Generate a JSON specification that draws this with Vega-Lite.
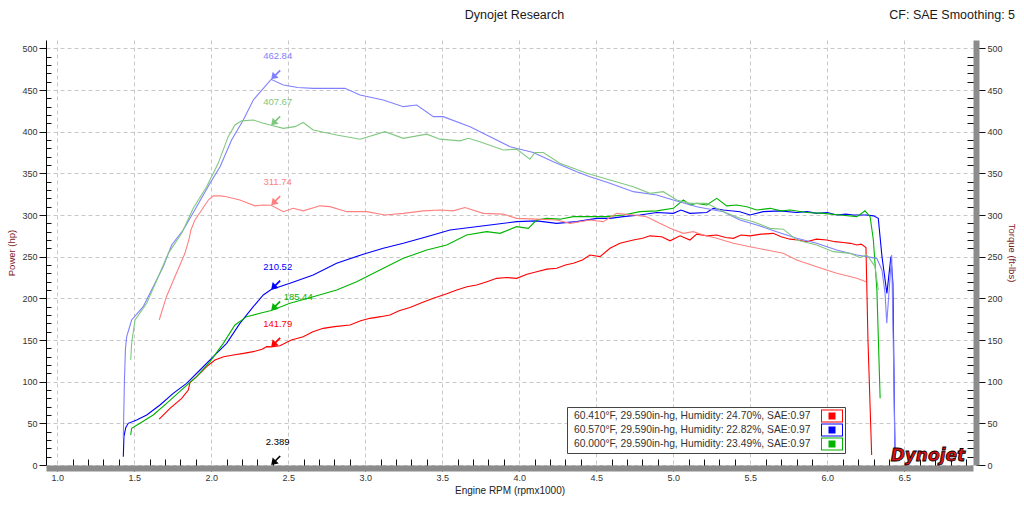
{
  "$schema": "https://vega.github.io/schema/vega-lite/v6.json",
  "width": 927,
  "height": 425,
  "autosize": {"type": "none"},
  "padding": {"left": 46, "top": 40, "right": 51, "bottom": 47},
  "background": "white",
  "config": {
    "view": {"stroke": null},
    "font": "Liberation Sans",
    "axis": {"labelFont": "Liberation Sans", "titleFont": "Liberation Sans"},
    "text": {"font": "Liberation Sans"}
  },
  "title": {"text": "Dynojet Research", "frame": "group", "anchor": "middle", "baseline": "top", "offset": -12, "dx": 5, "font": "Liberation Sans", "fontSize": 12.5, "fontWeight": "normal", "color": "#1a1a1a"},
  "datasets": {
    "curves": [
      {"s":"P1","r":1.662,"v":55},{"s":"P1","r":1.732,"v":68},{"s":"P1","r":1.808,"v":80},{"s":"P1","r":1.851,"v":90},{"s":"P1","r":1.862,"v":99},{"s":"P1","r":1.905,"v":106},{"s":"P1","r":1.97,"v":118},{"s":"P1","r":2.024,"v":126},{"s":"P1","r":2.08,"v":130},{"s":"P1","r":2.143,"v":132},{"s":"P1","r":2.21,"v":134},{"s":"P1","r":2.273,"v":136},{"s":"P1","r":2.33,"v":139},{"s":"P1","r":2.36,"v":142},{"s":"P1","r":2.389,"v":141.79},{"s":"P1","r":2.446,"v":143},{"s":"P1","r":2.52,"v":150},{"s":"P1","r":2.597,"v":154},{"s":"P1","r":2.66,"v":160},{"s":"P1","r":2.727,"v":164},{"s":"P1","r":2.8,"v":166},{"s":"P1","r":2.901,"v":168},{"s":"P1","r":2.97,"v":173},{"s":"P1","r":3.031,"v":176},{"s":"P1","r":3.1,"v":178},{"s":"P1","r":3.16,"v":180},{"s":"P1","r":3.22,"v":185},{"s":"P1","r":3.29,"v":189},{"s":"P1","r":3.37,"v":195},{"s":"P1","r":3.442,"v":200},{"s":"P1","r":3.52,"v":205},{"s":"P1","r":3.594,"v":210},{"s":"P1","r":3.66,"v":214},{"s":"P1","r":3.723,"v":216},{"s":"P1","r":3.79,"v":220},{"s":"P1","r":3.853,"v":224},{"s":"P1","r":3.92,"v":225},{"s":"P1","r":3.983,"v":224},{"s":"P1","r":4.05,"v":229},{"s":"P1","r":4.113,"v":232},{"s":"P1","r":4.18,"v":235},{"s":"P1","r":4.243,"v":236},{"s":"P1","r":4.3,"v":240},{"s":"P1","r":4.351,"v":242},{"s":"P1","r":4.41,"v":246},{"s":"P1","r":4.459,"v":252},{"s":"P1","r":4.524,"v":250},{"s":"P1","r":4.589,"v":260},{"s":"P1","r":4.654,"v":266},{"s":"P1","r":4.74,"v":270},{"s":"P1","r":4.8,"v":272},{"s":"P1","r":4.849,"v":275},{"s":"P1","r":4.925,"v":274},{"s":"P1","r":4.979,"v":269},{"s":"P1","r":5.044,"v":275},{"s":"P1","r":5.108,"v":270},{"s":"P1","r":5.152,"v":277},{"s":"P1","r":5.22,"v":275},{"s":"P1","r":5.282,"v":276},{"s":"P1","r":5.34,"v":273},{"s":"P1","r":5.39,"v":272},{"s":"P1","r":5.44,"v":276},{"s":"P1","r":5.498,"v":275},{"s":"P1","r":5.57,"v":277},{"s":"P1","r":5.649,"v":278},{"s":"P1","r":5.7,"v":274},{"s":"P1","r":5.758,"v":271},{"s":"P1","r":5.81,"v":270},{"s":"P1","r":5.866,"v":268},{"s":"P1","r":5.93,"v":271},{"s":"P1","r":5.996,"v":270},{"s":"P1","r":6.05,"v":268},{"s":"P1","r":6.104,"v":267},{"s":"P1","r":6.15,"v":266},{"s":"P1","r":6.192,"v":264},{"s":"P1","r":6.22,"v":265},{"s":"P1","r":6.251,"v":261},{"s":"P1","r":6.264,"v":150},{"s":"P1","r":6.288,"v":12},
      {"s":"P2","r":1.429,"v":10},{"s":"P2","r":1.433,"v":34},{"s":"P2","r":1.445,"v":45},{"s":"P2","r":1.461,"v":50},{"s":"P2","r":1.516,"v":54},{"s":"P2","r":1.581,"v":60},{"s":"P2","r":1.667,"v":72},{"s":"P2","r":1.753,"v":86},{"s":"P2","r":1.84,"v":98},{"s":"P2","r":1.927,"v":114},{"s":"P2","r":2.013,"v":130},{"s":"P2","r":2.1,"v":146},{"s":"P2","r":2.186,"v":170},{"s":"P2","r":2.273,"v":190},{"s":"P2","r":2.338,"v":204},{"s":"P2","r":2.389,"v":210.52},{"s":"P2","r":2.511,"v":218},{"s":"P2","r":2.662,"v":228},{"s":"P2","r":2.814,"v":242},{"s":"P2","r":2.987,"v":253},{"s":"P2","r":3.117,"v":260},{"s":"P2","r":3.247,"v":266},{"s":"P2","r":3.399,"v":274},{"s":"P2","r":3.55,"v":282},{"s":"P2","r":3.68,"v":285},{"s":"P2","r":3.81,"v":288},{"s":"P2","r":3.983,"v":292},{"s":"P2","r":4.113,"v":293},{"s":"P2","r":4.243,"v":290},{"s":"P2","r":4.373,"v":292},{"s":"P2","r":4.503,"v":296},{"s":"P2","r":4.589,"v":296},{"s":"P2","r":4.675,"v":298},{"s":"P2","r":4.784,"v":300},{"s":"P2","r":4.892,"v":303},{"s":"P2","r":5.0,"v":302},{"s":"P2","r":5.05,"v":306},{"s":"P2","r":5.108,"v":302},{"s":"P2","r":5.217,"v":303},{"s":"P2","r":5.26,"v":308},{"s":"P2","r":5.325,"v":306},{"s":"P2","r":5.433,"v":304},{"s":"P2","r":5.498,"v":300},{"s":"P2","r":5.584,"v":304},{"s":"P2","r":5.693,"v":305},{"s":"P2","r":5.801,"v":303},{"s":"P2","r":5.87,"v":304},{"s":"P2","r":5.931,"v":302},{"s":"P2","r":6.0,"v":303},{"s":"P2","r":6.061,"v":300},{"s":"P2","r":6.12,"v":301},{"s":"P2","r":6.169,"v":300},{"s":"P2","r":6.256,"v":300},{"s":"P2","r":6.3,"v":299},{"s":"P2","r":6.331,"v":296},{"s":"P2","r":6.355,"v":250},{"s":"P2","r":6.387,"v":206},{"s":"P2","r":6.413,"v":250},{"s":"P2","r":6.426,"v":218},{"s":"P2","r":6.434,"v":90},{"s":"P2","r":6.44,"v":8},
      {"s":"P3","r":1.477,"v":36},{"s":"P3","r":1.483,"v":44},{"s":"P3","r":1.537,"v":50},{"s":"P3","r":1.623,"v":60},{"s":"P3","r":1.71,"v":74},{"s":"P3","r":1.818,"v":92},{"s":"P3","r":1.905,"v":106},{"s":"P3","r":1.992,"v":124},{"s":"P3","r":2.078,"v":146},{"s":"P3","r":2.154,"v":168},{"s":"P3","r":2.23,"v":178},{"s":"P3","r":2.316,"v":182},{"s":"P3","r":2.389,"v":185.44},{"s":"P3","r":2.511,"v":194},{"s":"P3","r":2.662,"v":202},{"s":"P3","r":2.814,"v":210},{"s":"P3","r":2.944,"v":220},{"s":"P3","r":3.095,"v":234},{"s":"P3","r":3.247,"v":248},{"s":"P3","r":3.399,"v":258},{"s":"P3","r":3.529,"v":264},{"s":"P3","r":3.658,"v":276},{"s":"P3","r":3.788,"v":280},{"s":"P3","r":3.875,"v":278},{"s":"P3","r":3.983,"v":286},{"s":"P3","r":4.058,"v":284},{"s":"P3","r":4.113,"v":294},{"s":"P3","r":4.178,"v":296},{"s":"P3","r":4.263,"v":295},{"s":"P3","r":4.351,"v":298},{"s":"P3","r":4.459,"v":298},{"s":"P3","r":4.567,"v":298},{"s":"P3","r":4.675,"v":300},{"s":"P3","r":4.784,"v":304},{"s":"P3","r":4.892,"v":305},{"s":"P3","r":5.0,"v":308},{"s":"P3","r":5.065,"v":318},{"s":"P3","r":5.11,"v":312},{"s":"P3","r":5.154,"v":314},{"s":"P3","r":5.217,"v":312},{"s":"P3","r":5.282,"v":320},{"s":"P3","r":5.347,"v":311},{"s":"P3","r":5.41,"v":312},{"s":"P3","r":5.477,"v":310},{"s":"P3","r":5.542,"v":306},{"s":"P3","r":5.628,"v":308},{"s":"P3","r":5.7,"v":305},{"s":"P3","r":5.758,"v":306},{"s":"P3","r":5.866,"v":303},{"s":"P3","r":5.974,"v":302},{"s":"P3","r":6.082,"v":300},{"s":"P3","r":6.192,"v":298},{"s":"P3","r":6.245,"v":305},{"s":"P3","r":6.278,"v":298},{"s":"P3","r":6.299,"v":270},{"s":"P3","r":6.322,"v":210},{"s":"P3","r":6.343,"v":80},
      {"s":"T1","r":1.662,"v":174},{"s":"T1","r":1.709,"v":202},{"s":"T1","r":1.764,"v":226},{"s":"T1","r":1.829,"v":254},{"s":"T1","r":1.857,"v":272},{"s":"T1","r":1.868,"v":282},{"s":"T1","r":1.894,"v":294},{"s":"T1","r":1.938,"v":306},{"s":"T1","r":1.981,"v":318},{"s":"T1","r":2.013,"v":323},{"s":"T1","r":2.06,"v":323},{"s":"T1","r":2.1,"v":322},{"s":"T1","r":2.186,"v":318},{"s":"T1","r":2.24,"v":314},{"s":"T1","r":2.284,"v":311},{"s":"T1","r":2.338,"v":312},{"s":"T1","r":2.389,"v":311.74},{"s":"T1","r":2.468,"v":304},{"s":"T1","r":2.532,"v":308},{"s":"T1","r":2.597,"v":305},{"s":"T1","r":2.706,"v":311},{"s":"T1","r":2.771,"v":310},{"s":"T1","r":2.879,"v":304},{"s":"T1","r":3.009,"v":304},{"s":"T1","r":3.128,"v":300},{"s":"T1","r":3.247,"v":302},{"s":"T1","r":3.377,"v":305},{"s":"T1","r":3.485,"v":306},{"s":"T1","r":3.571,"v":305},{"s":"T1","r":3.647,"v":309},{"s":"T1","r":3.766,"v":302},{"s":"T1","r":3.896,"v":301},{"s":"T1","r":3.983,"v":296},{"s":"T1","r":4.113,"v":295},{"s":"T1","r":4.243,"v":294},{"s":"T1","r":4.329,"v":290},{"s":"T1","r":4.459,"v":294},{"s":"T1","r":4.545,"v":292},{"s":"T1","r":4.632,"v":302},{"s":"T1","r":4.74,"v":300},{"s":"T1","r":4.827,"v":298},{"s":"T1","r":4.892,"v":292},{"s":"T1","r":4.979,"v":284},{"s":"T1","r":5.065,"v":278},{"s":"T1","r":5.13,"v":280},{"s":"T1","r":5.195,"v":276},{"s":"T1","r":5.282,"v":272},{"s":"T1","r":5.39,"v":266},{"s":"T1","r":5.498,"v":262},{"s":"T1","r":5.606,"v":258},{"s":"T1","r":5.714,"v":254},{"s":"T1","r":5.801,"v":246},{"s":"T1","r":5.931,"v":238},{"s":"T1","r":6.061,"v":230},{"s":"T1","r":6.192,"v":224},{"s":"T1","r":6.251,"v":220},
      {"s":"T2","r":1.429,"v":32},{"s":"T2","r":1.436,"v":100},{"s":"T2","r":1.443,"v":140},{"s":"T2","r":1.451,"v":154},{"s":"T2","r":1.483,"v":174},{"s":"T2","r":1.558,"v":190},{"s":"T2","r":1.623,"v":214},{"s":"T2","r":1.688,"v":238},{"s":"T2","r":1.743,"v":264},{"s":"T2","r":1.818,"v":282},{"s":"T2","r":1.905,"v":310},{"s":"T2","r":1.992,"v":338},{"s":"T2","r":2.057,"v":358},{"s":"T2","r":2.132,"v":390},{"s":"T2","r":2.208,"v":414},{"s":"T2","r":2.273,"v":438},{"s":"T2","r":2.389,"v":462.84},{"s":"T2","r":2.468,"v":456},{"s":"T2","r":2.562,"v":453},{"s":"T2","r":2.662,"v":452},{"s":"T2","r":2.868,"v":452},{"s":"T2","r":2.966,"v":444},{"s":"T2","r":3.117,"v":438},{"s":"T2","r":3.247,"v":430},{"s":"T2","r":3.334,"v":432},{"s":"T2","r":3.442,"v":418},{"s":"T2","r":3.506,"v":418},{"s":"T2","r":3.68,"v":406},{"s":"T2","r":3.788,"v":396},{"s":"T2","r":3.94,"v":382},{"s":"T2","r":4.091,"v":375},{"s":"T2","r":4.221,"v":364},{"s":"T2","r":4.373,"v":352},{"s":"T2","r":4.459,"v":346},{"s":"T2","r":4.589,"v":338},{"s":"T2","r":4.74,"v":328},{"s":"T2","r":4.892,"v":324},{"s":"T2","r":5.0,"v":318},{"s":"T2","r":5.152,"v":310},{"s":"T2","r":5.325,"v":304},{"s":"T2","r":5.433,"v":294},{"s":"T2","r":5.542,"v":288},{"s":"T2","r":5.671,"v":280},{"s":"T2","r":5.801,"v":272},{"s":"T2","r":5.931,"v":266},{"s":"T2","r":6.061,"v":258},{"s":"T2","r":6.192,"v":252},{"s":"T2","r":6.321,"v":248},{"s":"T2","r":6.355,"v":234},{"s":"T2","r":6.375,"v":206},{"s":"T2","r":6.386,"v":170},{"s":"T2","r":6.418,"v":252},{"s":"T2","r":6.43,"v":130},{"s":"T2","r":6.44,"v":5},
      {"s":"T3","r":1.477,"v":126},{"s":"T3","r":1.483,"v":146},{"s":"T3","r":1.505,"v":174},{"s":"T3","r":1.581,"v":194},{"s":"T3","r":1.656,"v":226},{"s":"T3","r":1.721,"v":254},{"s":"T3","r":1.808,"v":278},{"s":"T3","r":1.883,"v":308},{"s":"T3","r":1.97,"v":334},{"s":"T3","r":2.045,"v":362},{"s":"T3","r":2.11,"v":394},{"s":"T3","r":2.154,"v":408},{"s":"T3","r":2.197,"v":413},{"s":"T3","r":2.273,"v":414},{"s":"T3","r":2.338,"v":410},{"s":"T3","r":2.389,"v":407.67},{"s":"T3","r":2.468,"v":404},{"s":"T3","r":2.544,"v":406},{"s":"T3","r":2.597,"v":411},{"s":"T3","r":2.662,"v":402},{"s":"T3","r":2.814,"v":396},{"s":"T3","r":2.966,"v":391},{"s":"T3","r":3.128,"v":400},{"s":"T3","r":3.247,"v":392},{"s":"T3","r":3.399,"v":397},{"s":"T3","r":3.485,"v":391},{"s":"T3","r":3.615,"v":389},{"s":"T3","r":3.669,"v":392},{"s":"T3","r":3.744,"v":388},{"s":"T3","r":3.896,"v":378},{"s":"T3","r":3.983,"v":379},{"s":"T3","r":4.069,"v":367},{"s":"T3","r":4.102,"v":375},{"s":"T3","r":4.156,"v":375},{"s":"T3","r":4.263,"v":362},{"s":"T3","r":4.351,"v":356},{"s":"T3","r":4.438,"v":350},{"s":"T3","r":4.589,"v":342},{"s":"T3","r":4.74,"v":334},{"s":"T3","r":4.849,"v":326},{"s":"T3","r":4.935,"v":328},{"s":"T3","r":5.022,"v":318},{"s":"T3","r":5.108,"v":314},{"s":"T3","r":5.217,"v":314},{"s":"T3","r":5.325,"v":304},{"s":"T3","r":5.433,"v":296},{"s":"T3","r":5.519,"v":292},{"s":"T3","r":5.628,"v":284},{"s":"T3","r":5.714,"v":283},{"s":"T3","r":5.801,"v":270},{"s":"T3","r":5.931,"v":264},{"s":"T3","r":6.039,"v":256},{"s":"T3","r":6.147,"v":254},{"s":"T3","r":6.212,"v":249},{"s":"T3","r":6.256,"v":252},{"s":"T3","r":6.288,"v":244},{"s":"T3","r":6.31,"v":238},{"s":"T3","r":6.331,"v":210}
    ],
    "cursor": [
      {"s":"T2","r":2.389,"v":462.84,"label":"462.84"},
      {"s":"T3","r":2.389,"v":407.67,"label":"407.67"},
      {"s":"T1","r":2.389,"v":311.74,"label":"311.74"},
      {"s":"P2","r":2.389,"v":210.52,"label":"210.52"},
      {"s":"P3","r":2.389,"v":185.44,"label":"185.44"},
      {"s":"P1","r":2.389,"v":141.79,"label":"141.79"},
      {"s":"X","r":2.389,"v":0,"label":"2.389"}
    ]
  },
  "layer": [
    {
      "layer": [
        {
          "data": {"name": "curves"},
          "mark": {"type": "line", "strokeWidth": 1.1},
          "encoding": {
            "x": {
              "field": "r", "type": "quantitative",
              "scale": {"domain": [0.927, 6.946], "nice": false, "zero": false},
              "axis": {
                "values": [1,1.1,1.2,1.3,1.4,1.5,1.6,1.7,1.8,1.9,2,2.1,2.2,2.3,2.4,2.5,2.6,2.7,2.8,2.9,3,3.1,3.2,3.3,3.4,3.5,3.6,3.7,3.8,3.9,4,4.1,4.2,4.3,4.4,4.5,4.6,4.7,4.8,4.9,5,5.1,5.2,5.3,5.4,5.5,5.6,5.7,5.8,5.9,6,6.1,6.2,6.3,6.4,6.5,6.6,6.7,6.8,6.9],
                "tickCount": 200,
                "format": ".1f",
                "labelExpr": "abs(datum.value*2-round(datum.value*2)) < 0.01 ? datum.label : ''",
                "tickSize": {"condition": {"test": "abs(datum.value*2-round(datum.value*2)) < 0.01", "value": 3}, "value": -9},
                "grid": true, "gridColor": "#c8c8c8", "gridDash": [4, 3],
                "gridOpacity": {"condition": {"test": "abs(datum.value*2-round(datum.value*2)) < 0.01", "value": 1}, "value": 0},
                "domainColor": "#8c8c8c", "domainWidth": 6, "offset": 3,
                "tickColor": "#111", "labelColor": "#333", "labelFontSize": 9, "labelPadding": 2,
                "labelFlush": false, "labelOverlap": false, "labelBound": false,
                "title": "Engine RPM (rpmx1000)", "titleColor": "#222", "titleFontSize": 10, "titleFontWeight": "normal", "titlePadding": 3
              }
            },
            "y": {
              "field": "v", "type": "quantitative",
              "scale": {"domain": [0, 510], "nice": false, "zero": false},
              "axis": {
                "values": [0,10,20,30,40,50,60,70,80,90,100,110,120,130,140,150,160,170,180,190,200,210,220,230,240,250,260,270,280,290,300,310,320,330,340,350,360,370,380,390,400,410,420,430,440,450,460,470,480,490,500],
                "tickCount": 200,
                "labelExpr": "datum.value % 50 === 0 ? datum.label : ''",
                "tickSize": {"condition": {"test": "datum.value % 50 === 0", "value": 7}, "value": -5},
                "grid": true, "gridColor": "#c8c8c8", "gridDash": [4, 3],
                "gridOpacity": {"condition": {"test": "datum.value % 50 === 0", "value": 1}, "value": 0},
                "domainColor": "#000", "tickColor": "#111", "labelColor": "#333", "labelFontSize": 9, "labelPadding": 2, "labelOverlap": false,
                "title": "Power (hp)", "titleColor": "#7a2020", "titleFontSize": 9.5, "titleFontWeight": "normal", "titlePadding": 5
              }
            },
            "color": {
              "field": "s", "type": "nominal",
              "scale": {"domain": ["P1","P2","P3","T1","T2","T3","X"], "range": ["#ff0000","#0000ff","#00b400","#ff8080","#8080ff","#80c880","#000000"]},
              "legend": {
                "values": ["P1","P2","P3"],
                "orient": "none", "legendX": 521, "legendY": 367,
                "title": null,
                "labelExpr": "datum.value === 'P1' ? '60.410°F, 29.590in-hg, Humidity: 24.70%, SAE:0.97' : datum.value === 'P2' ? '60.570°F, 29.590in-hg, Humidity: 22.82%, SAE:0.97' : '60.000°F, 29.590in-hg, Humidity: 23.49%, SAE:0.97'",
                "labelFont": "Liberation Sans", "labelFontSize": 10.3, "labelColor": "#333", "labelLimit": 0,
                "labelAlign": "left", "labelOffset": -9,
                "symbolType": "M35,-0.929H38.142V0.929H35Z M35.143,-0.786V0.786H37.999V-0.786Z M36.071,-0.5H37.071V0.5H36.071Z",
                "symbolSize": 196, "symbolStrokeWidth": 0,
                "rowPadding": 0, "padding": 2,
                "strokeColor": "#444", "fillColor": "#ffffff",
                "encode": {"symbols": {"update": {"fill": {"scale": "color", "field": "value"}, "strokeWidth": {"value": 0}}}}
              }
            }
          }
        },
        {
          "mark": {"type": "rule", "color": "#5a5a5a", "strokeWidth": 2},
          "encoding": {"x": {"datum": 2.389}}
        },
        {
          "mark": {"type": "rule", "color": "#000", "strokeWidth": 1},
          "encoding": {"x": {"datum": 6.946}}
        },
        {
          "data": {"name": "cursor"},
          "mark": {"type": "point", "filled": true, "opacity": 1, "size": 400, "shape": "M0,0L0.15,-0.75L0.39,-0.51L0.84,-0.96L0.96,-0.84L0.51,-0.39L0.75,-0.15Z"},
          "encoding": {
            "x": {"field": "r", "type": "quantitative"},
            "y": {"field": "v", "type": "quantitative"},
            "color": {"field": "s", "type": "nominal"}
          }
        },
        {
          "data": {"name": "cursor"},
          "transform": [{"filter": "datum.s !== 'P3'"}],
          "mark": {"type": "text", "dx": 6.5, "dy": -23, "fontSize": 9.5, "align": "center", "baseline": "middle"},
          "encoding": {
            "x": {"field": "r", "type": "quantitative"},
            "y": {"field": "v", "type": "quantitative"},
            "text": {"field": "label"},
            "color": {"field": "s", "type": "nominal"}
          }
        },
        {
          "data": {"name": "cursor"},
          "transform": [{"filter": "datum.s === 'P3'"}],
          "mark": {"type": "text", "dx": 27, "dy": -13, "fontSize": 9.5, "align": "center", "baseline": "middle"},
          "encoding": {
            "x": {"field": "r", "type": "quantitative"},
            "y": {"field": "v", "type": "quantitative"},
            "text": {"field": "label"},
            "color": {"field": "s", "type": "nominal"}
          }
        },
        {
          "data": {"values": [{}]},
          "mark": {"type": "text", "align": "right", "baseline": "top", "fontSize": 12.5, "color": "#1a1a1a"},
          "encoding": {"x": {"datum": 7.219}, "y": {"datum": 547}, "text": {"value": "CF: SAE Smoothing: 5"}}
        },
        {
          "data": {"values": [{}]},
          "mark": {"type": "text", "align": "right", "baseline": "alphabetic", "font": "DejaVu Sans", "fontSize": 17, "fontStyle": "italic", "fontWeight": "bold", "color": "#e01010", "stroke": "#000", "strokeWidth": 0.8},
          "encoding": {"x": {"datum": 6.895}, "y": {"datum": 4.8}, "text": {"value": "Dynojet"}}
        }
      ]
    },
    {
      "mark": {"type": "rule", "color": "#000", "strokeWidth": 1},
      "encoding": {
        "y": {
          "datum": 0,
          "type": "quantitative",
          "scale": {"domain": [0, 510], "nice": false, "zero": false},
          "axis": {
            "orient": "right",
            "values": [0,10,20,30,40,50,60,70,80,90,100,110,120,130,140,150,160,170,180,190,200,210,220,230,240,250,260,270,280,290,300,310,320,330,340,350,360,370,380,390,400,410,420,430,440,450,460,470,480,490,500],
            "tickCount": 200,
            "labelExpr": "datum.value % 50 === 0 ? datum.label : ''",
            "tickSize": {"condition": {"test": "datum.value % 50 === 0", "value": 9}, "value": -9},
            "grid": false, "offset": 3,
            "domainColor": "#8c8c8c", "domainWidth": 6,
            "tickColor": "#111", "labelColor": "#333", "labelFontSize": 9, "labelPadding": 2, "labelOverlap": false,
            "title": "Torque (ft-lbs)", "titleColor": "#7a2020", "titleFontSize": 9.5, "titleFontWeight": "normal", "titlePadding": 4
          }
        }
      }
    }
  ],
  "resolve": {"scale": {"y": "independent"}}
}
